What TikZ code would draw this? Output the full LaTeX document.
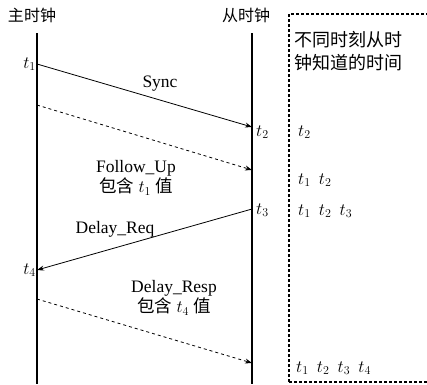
\documentclass[tikz,border=0pt]{standalone}
\usepackage{fontspec}
\setmainfont{Liberation Serif}
\newfontfamily\cjk{Noto Sans CJK SC}
\usetikzlibrary{arrows.meta}
\tikzset{
  clockline/.style={line width=1.6pt},
  msg/.style={line width=0.8pt, -{Stealth[length=7pt,width=5pt]}},
  msgdash/.style={msg, dashed},
  boxline/.style={line width=1.1pt, dash pattern=on 3pt off 2pt},
  lbl/.style={font=\fontsize{17.5}{20}\selectfont, inner sep=1pt},
  tm/.style={font=\fontsize{16.5}{18}\selectfont, inner sep=1pt}
}
\begin{document}
\begin{tikzpicture}[x=1pt,y=-1pt]
	    \useasboundingbox (0,0) rectangle (427,384);
	    % clocks
	    \node[lbl, font=\fontsize{16}{18}\selectfont] (master) at (32,15) {\cjk 主时钟};
	    \node[lbl, font=\fontsize{16}{18}\selectfont] (slave) at (246,15) {\cjk 从时钟};
	    \draw[clockline] (37,33) -- (37,384);
	    \draw[clockline] (252,33) -- (252,384);
	    % knowledge box
	    \draw[boxline] (289,382) -- (289,14) -- (428,14);
	    \draw[boxline] (289,382) -- (428,382);
	    \node[lbl, font=\fontsize{18}{20}\selectfont, anchor=north west, align=left] (note) at (293,30) {\cjk 不同时刻从时\\[3pt]\cjk 钟知道的时间};
	    % points on the clock lines
	    \coordinate (m1) at (37,64);
	    \coordinate (s2) at (252,127);
	    \coordinate (m2) at (37,105);
	    \coordinate (s3) at (252,170);
	    \coordinate (s4) at (252,209);
	    \coordinate (m4) at (37,270);
	    \coordinate (m5) at (37,299);
	    \coordinate (s5) at (252,363);
	    % messages
	    \draw[msg] (m1) -- (s2);
	    \draw[msgdash] (m2) -- (s3);
	    \draw[msg] (s4) -- (m4);
	    \draw[msgdash] (m5) -- (s5);
	    \node[lbl] (sync) at (160,84) {Sync};
	    \node[lbl, align=center] (follow) at (136,178) {Follow\_Up\\{\cjk 包含} $t_1$ {\cjk 值}};
	    \node[lbl] (req) at (115,229) {Delay\_Req};
	    \node[lbl, align=center] (resp) at (174,298) {Delay\_Resp\\{\cjk 包含} $t_4$ {\cjk 值}};
	    % time stamps
	    \node[tm, anchor=east] (t1) at (m1) {$t_1$};
	    \node[tm, anchor=east] (t4) at (m4) {$t_4$};
	    \node[tm, anchor=west] (t2) at (255,132) {$t_2$};
	    \node[tm, anchor=west] (t3) at (255,210) {$t_3$};
	    \node[tm, anchor=west] (k1) at (297,132) {$t_2$};
	    \node[tm, anchor=west] (k2) at (297,180) {$t_1$\ \ $t_2$};
	    \node[tm, anchor=west] (k3) at (297,211) {$t_1$\ \ $t_2$\ \ $t_3$};
	    \node[tm, anchor=west] (k4) at (295,368) {$t_1$\ \ $t_2$\ \ $t_3$\ \ $t_4$};
	\end{tikzpicture}
\end{document}
